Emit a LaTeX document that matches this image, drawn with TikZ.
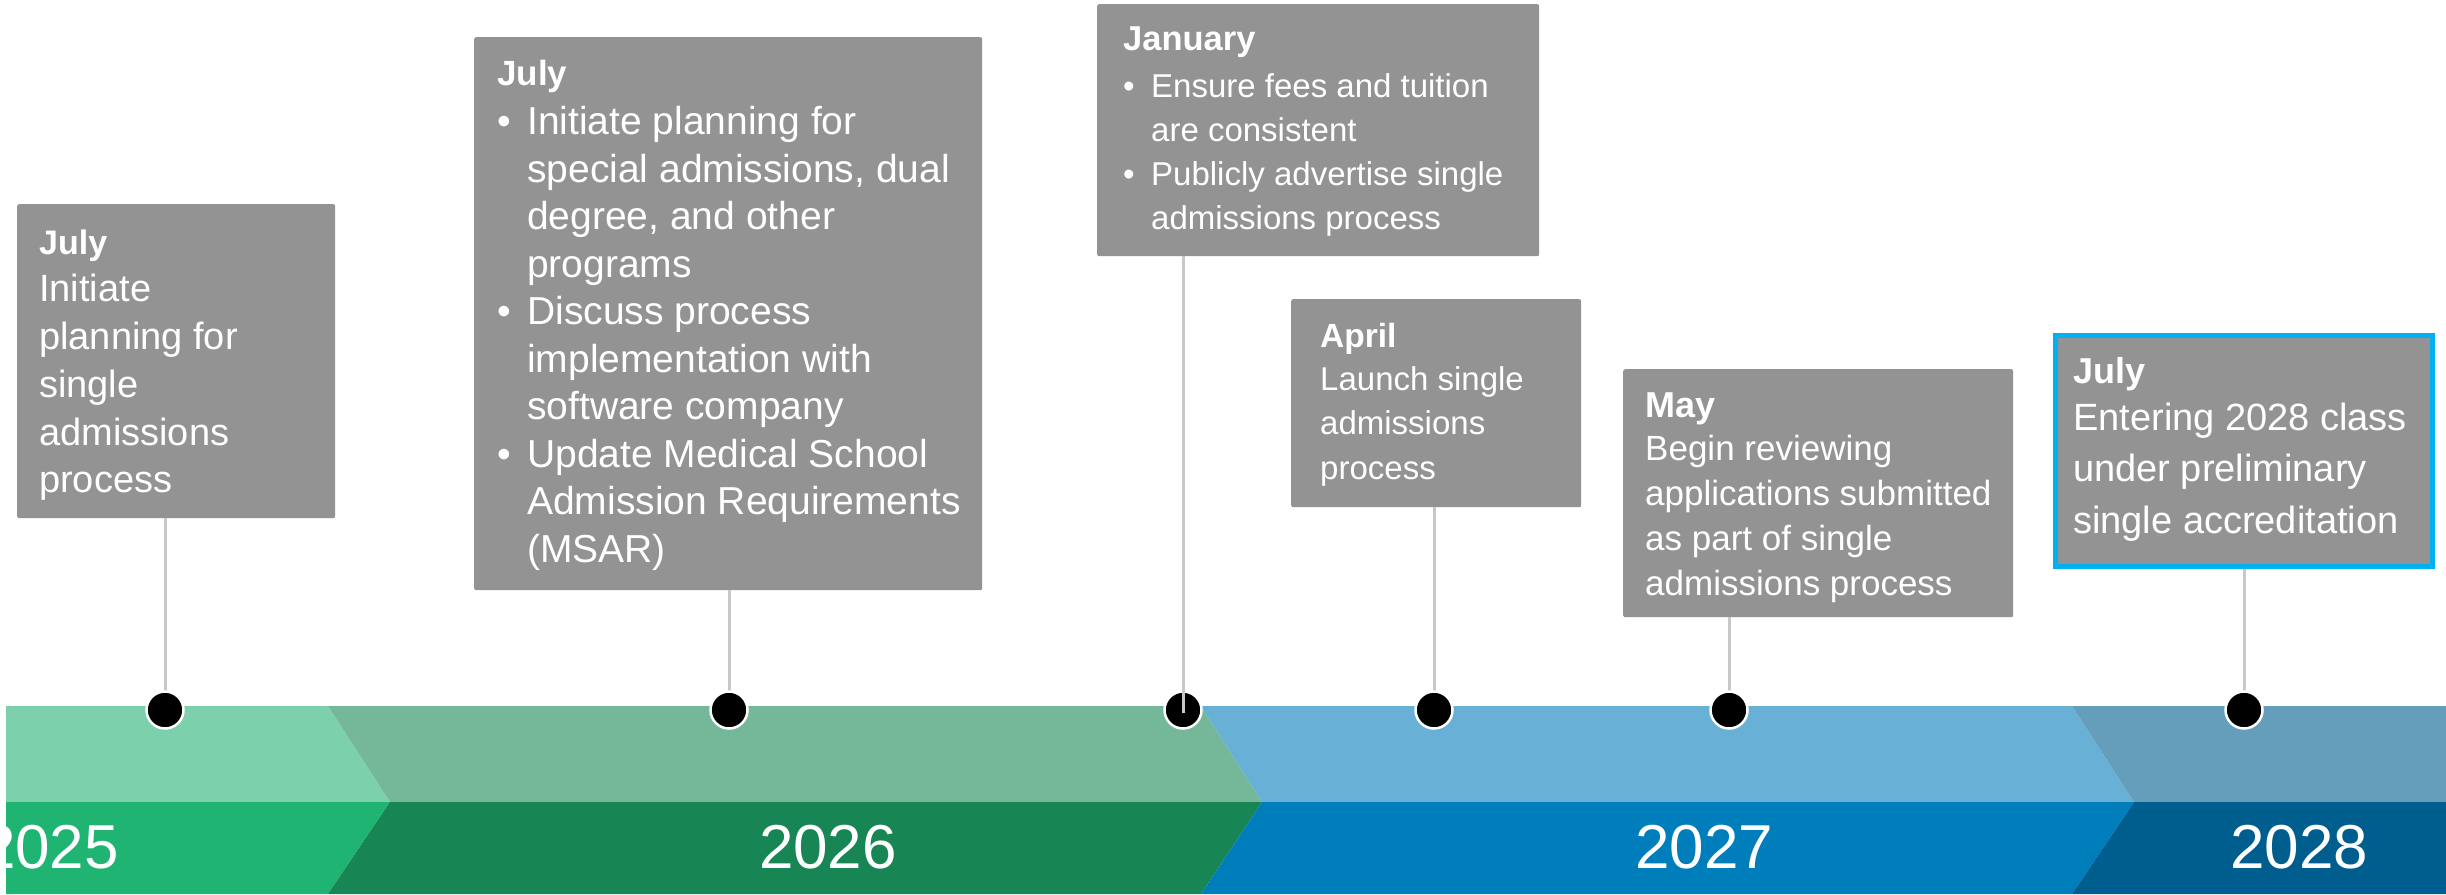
\documentclass[tikz,border=0pt]{standalone}
\usepackage{fontspec}
\setmainfont{Liberation Sans}
\definecolor{ca}{RGB}{124,209,172}
\definecolor{cA}{RGB}{32,180,115}
\definecolor{cb}{RGB}{117,184,153}
\definecolor{cB}{RGB}{24,134,84}
\definecolor{cc}{RGB}{104,176,214}
\definecolor{cC}{RGB}{0,126,188}
\definecolor{cd}{RGB}{101,158,187}
\definecolor{cD}{RGB}{0,94,143}
\definecolor{boxgray}{RGB}{147,147,147}
\definecolor{stemgray}{RGB}{200,200,200}
\definecolor{hilite}{RGB}{0,176,240}
\newcommand{\blk}[3]{\parbox[t]{700pt}{\raggedright\fontsize{#1}{#2}\selectfont #3}}
\newcommand{\hd}[2]{{\fontsize{#1}{40}\selectfont\bfseries #2}}
\newcommand{\bul}[1]{\makebox[#1][l]{\textbullet}}
\begin{document}
\begin{tikzpicture}[x=1pt,y=-1pt,
  box/.style={fill=boxgray, rounded corners=2pt, anchor=north west, inner sep=0pt, draw=none},
  stemline/.style={draw=stemgray, line width=3pt},
  dotmark/.style={circle, fill=black, draw=white, line width=2.5pt, minimum size=37pt, inner sep=0pt},
  yearlbl/.style={anchor=base, text=white, font=\fontsize{62}{70}\selectfont, inner sep=0pt},
  txt/.style={anchor=base west, inner sep=0pt, text=white}]
\useasboundingbox (0,0) rectangle (2446,894);
\begin{scope}
\clip (0,0) rectangle (2446,894);
% bands
\fill[ca] (6,706) -- (328,706) -- (390,802) -- (6,802) -- cycle;
\fill[cA] (6,802) -- (390,802) -- (328,894) -- (6,894) -- cycle;
\fill[cb] (328,706) -- (1201,706) -- (1262,802) -- (390,802) -- cycle;
\fill[cB] (390,802) -- (1262,802) -- (1201,894) -- (328,894) -- cycle;
\fill[cc] (1201,706) -- (2072,706) -- (2134,802) -- (1262,802) -- cycle;
\fill[cC] (1262,802) -- (2134,802) -- (2072,894) -- (1201,894) -- cycle;
\fill[cd] (2072,706) -- (2446,706) -- (2446,802) -- (2134,802) -- cycle;
\fill[cD] (2134,802) -- (2446,802) -- (2446,894) -- (2072,894) -- cycle;
% years
\node[yearlbl] (y25) at (50,868) {2025};
\node[yearlbl] (y26) at (828,868) {2026};
\node[yearlbl] (y27) at (1704,868) {2027};
\node[yearlbl] (y28) at (2299,868) {2028};
\end{scope}
% boxes
\node[box, minimum width=318pt, minimum height=314pt] (b1) at (17,204) {};
\node[box, minimum width=508pt, minimum height=553pt] (b2) at (474,37) {};
\node[box, minimum width=442pt, minimum height=252pt] (b3) at (1097,4) {};
\node[box, minimum width=290pt, minimum height=208pt] (b4) at (1291,299) {};
\node[box, minimum width=390pt, minimum height=248pt] (b5) at (1623,369) {};
\node[box, minimum width=377pt, minimum height=231pt, draw=hilite, line width=5pt, rounded corners=0pt] (b6) at (2053,333) {};
% timeline points
\coordinate (p1) at (165,710);
\coordinate (p2) at (729,710);
\coordinate (p3) at (1183,710);
\coordinate (p4) at (1434,710);
\coordinate (p5) at (1729,710);
\coordinate (p6) at (2244,710);
\draw[stemline] (b1.south -| p1) -- (p1);
\draw[stemline] (b2.south -| p2) -- (p2);
\draw[stemline] (b4.south -| p4) -- (p4);
\draw[stemline] (b5.south -| p5) -- (p5);
\draw[stemline] (b6.south -| p6) -- (p6);
\node[dotmark] (d1) at (p1) {};
\node[dotmark] (d2) at (p2) {};
\node[dotmark] (d3) at (p3) {};
\node[dotmark] (d4) at (p4) {};
\node[dotmark] (d5) at (p5) {};
\node[dotmark] (d6) at (p6) {};
\draw[stemline] (b3.south -| p3) -- ([yshift=-3pt]d3.center);
% texts
\node[txt] (t1) at (39,254) {\blk{38}{47.75}{\hd{34}{July}\\Initiate\\planning for\\single\\admissions\\process}};
\node[txt] (t2) at (497,85) {\blk{39}{47.45}{\hd{35}{July}\\[2.5pt]
\bul{30pt}Initiate planning for\\\hspace*{30pt}special admissions, dual\\\hspace*{30pt}degree, and other\\\hspace*{30pt}programs\\
\bul{30pt}Discuss process\\\hspace*{30pt}implementation with\\\hspace*{30pt}software company\\
\bul{30pt}Update Medical School\\\hspace*{30pt}Admission Requirements\\\hspace*{30pt}(MSAR)}};
\node[txt] (t3) at (1123,50) {\blk{33}{44.3}{\hd{34.5}{January}\\[2.7pt]
\bul{28pt}Ensure fees and tuition\\\hspace*{28pt}are consistent\\
\bul{28pt}Publicly advertise single\\\hspace*{28pt}admissions process}};
\node[txt] (t4) at (1320,347) {\blk{33}{44.5}{\hd{33.5}{April}\\[-1.5pt]Launch single\\admissions\\process}};
\node[txt] (t5) at (1645,417) {\blk{35}{45}{\hd{36}{May}\\[-2pt]Begin reviewing\\applications submitted\\as part of single\\admissions process}};
\node[txt] (t6) at (2073,383) {\blk{38}{51.5}{\hd{36}{July}\\[-4.5pt]Entering 2028 class\\under preliminary\\single accreditation}};
\end{tikzpicture}
\end{document}
